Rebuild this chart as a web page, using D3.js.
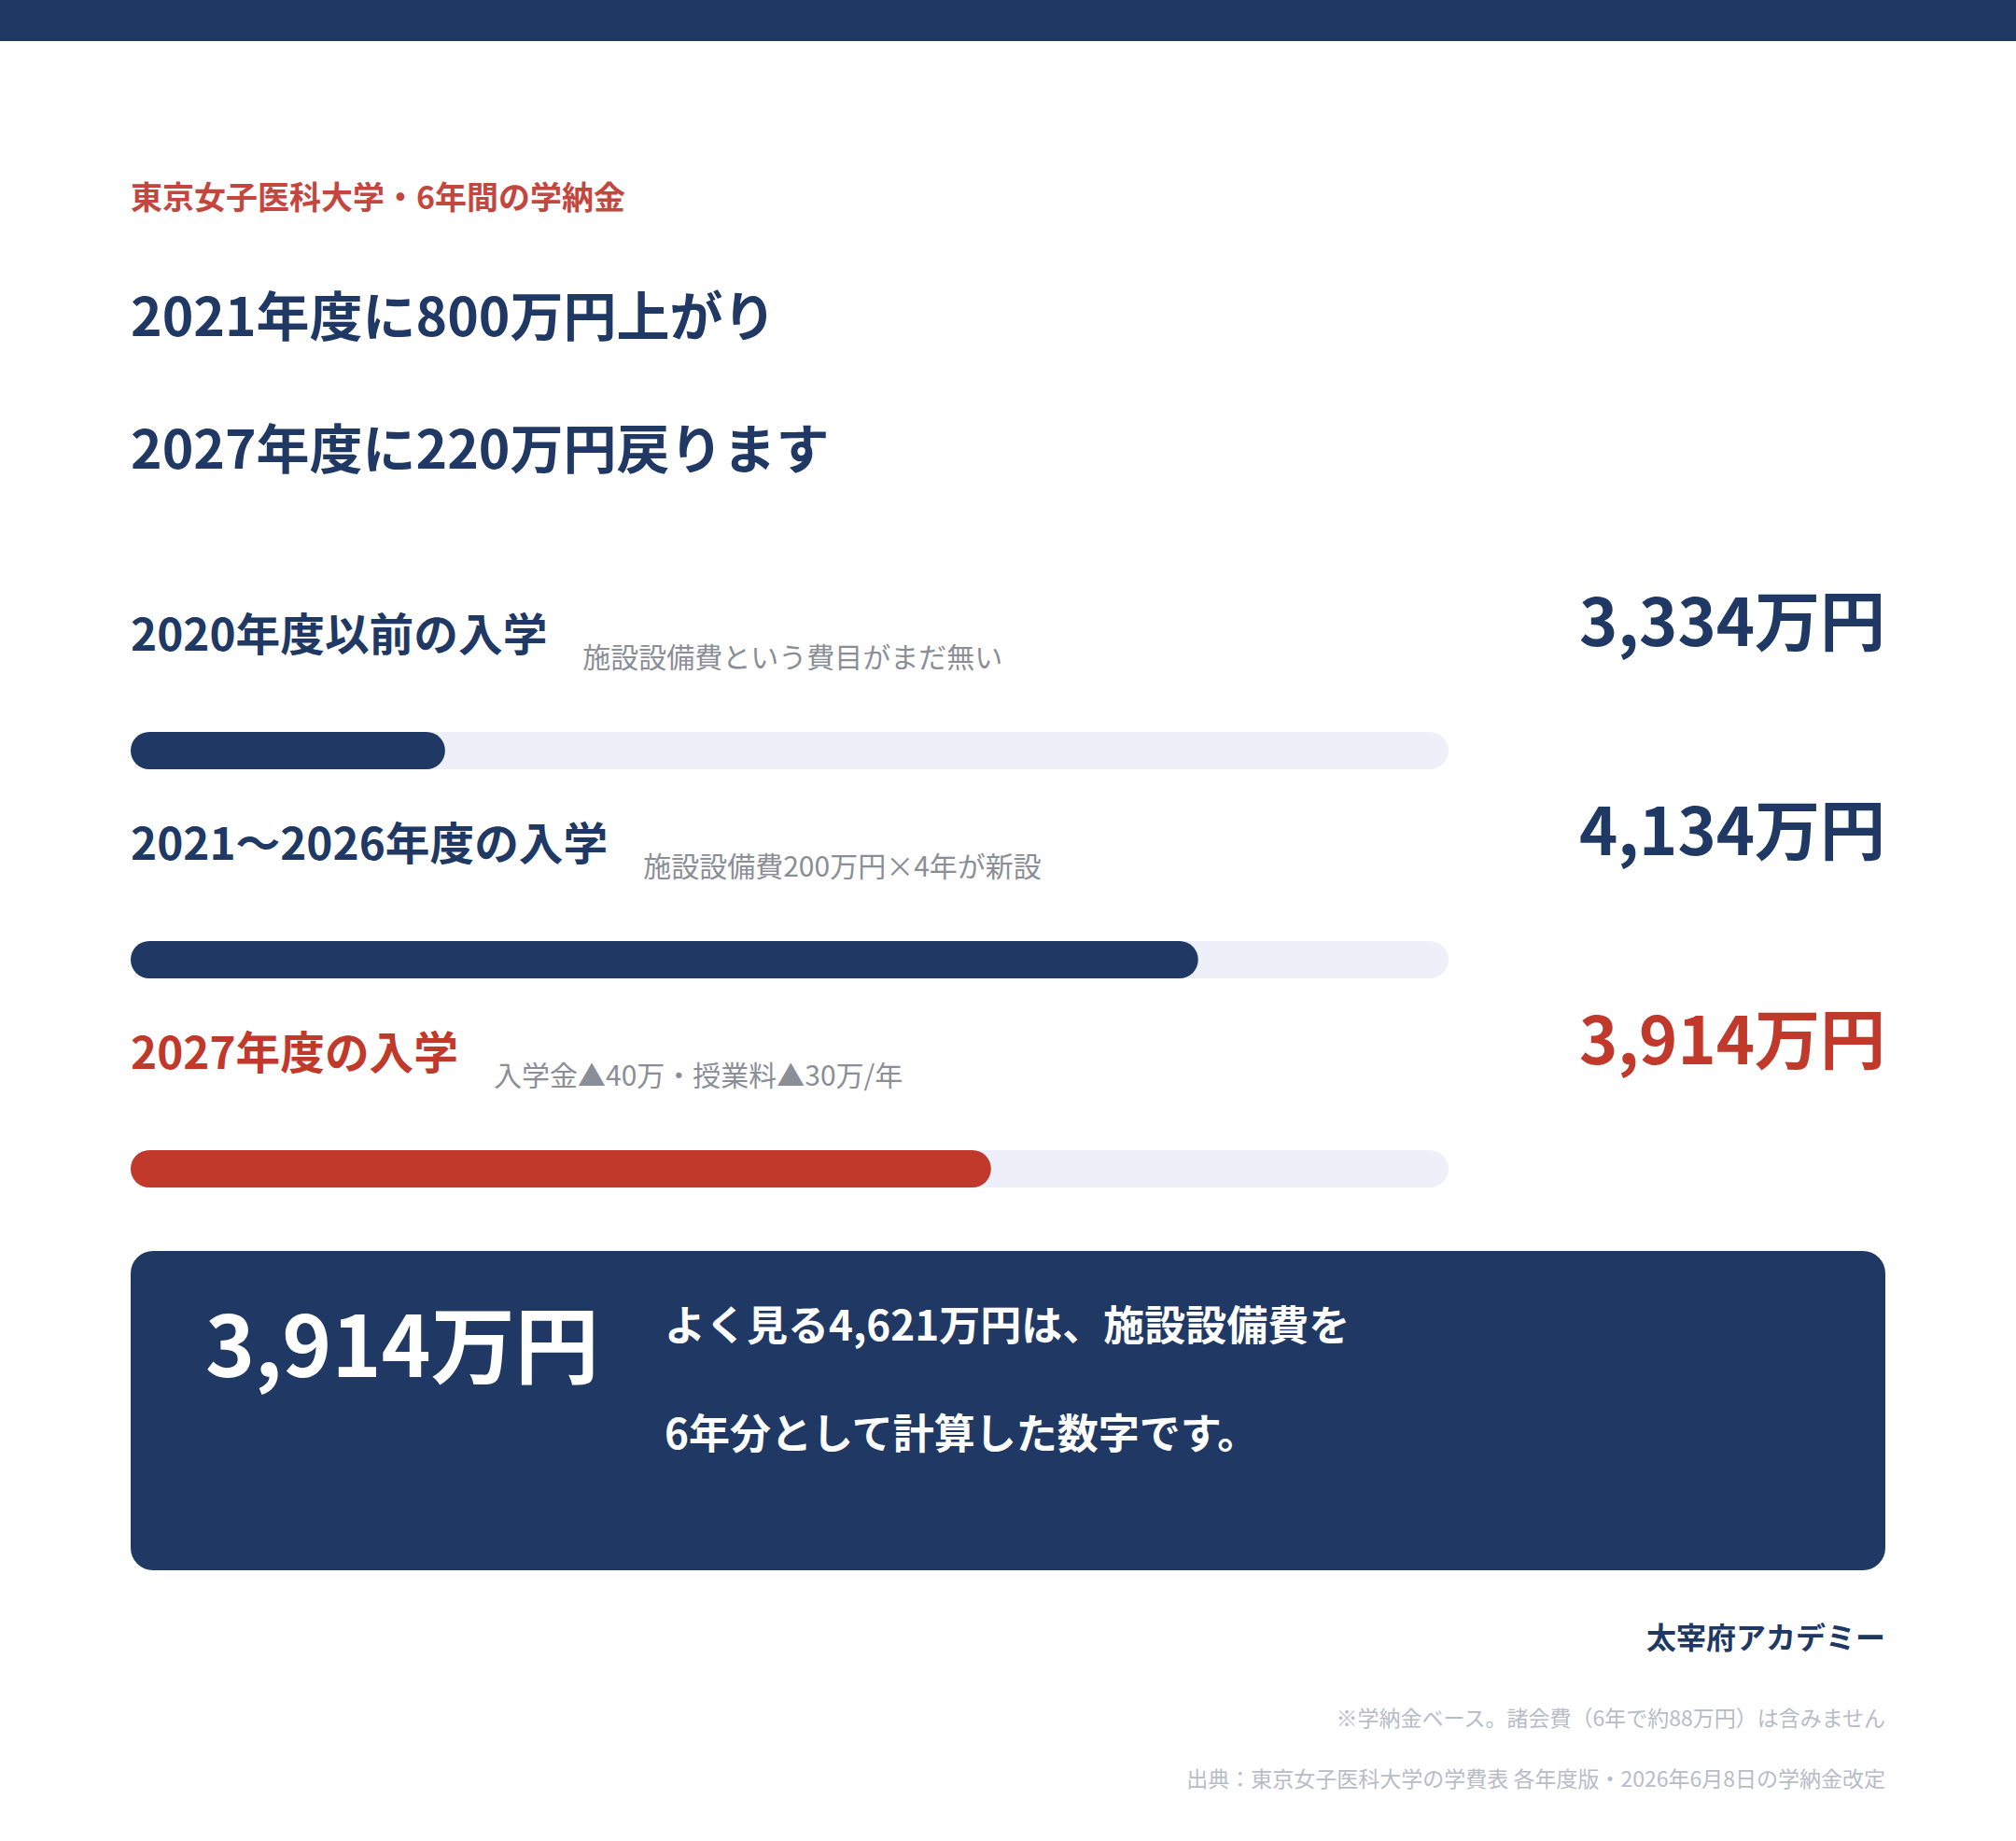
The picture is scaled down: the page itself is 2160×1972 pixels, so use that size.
<!DOCTYPE html>
<html>
<head>
<meta charset="utf-8">
<script src="https://cdn.jsdelivr.net/npm/d3@7/dist/d3.min.js"></script>
<style>
  html, body { margin: 0; padding: 0; background: #ffffff; }
  svg { display: block; }
  text { font-family: "Noto Sans CJK JP", "Noto Sans", sans-serif; }
</style>
</head>
<body>
<svg id="chart" width="2160" height="1972"></svg>
<script>
// ---- data ----
const kicker = "東京女子医科大学・6年間の学納金";
const headlines = ["2021年度に800万円上がり", "2027年度に220万円戻ります"];
const categories = ["2020年度以前の入学", "2021〜2026年度の入学", "2027年度の入学"];
const notes = ["施設設備費という費目がまだ無い", "施設設備費200万円×4年が新設", "入学金▲40万・授業料▲30万/年"];
const values = [3334, 4134, 3914];
const valueLabels = ["3,334万円", "4,134万円", "3,914万円"];
const highlighted = [false, false, true];
const scaleDomain = [3000, 4400];
const summaryValue = "3,914万円";
const summaryLines = ["よく見る4,621万円は、施設設備費を", "6年分として計算した数字です。"];
const brand = "太宰府アカデミー";
const footnotes = ["※学納金ベース。諸会費（6年で約88万円）は含みません", "出典：東京女子医科大学の学費表 各年度版・2026年6月8日の学納金改定"];

// ---- styles ----
const NAVY = "#203864";
const RED = "#c0392b";
const KICKER_RED = "#c4473f";
const TRACK = "#edf0f8";
const GRAY = "#8a8e97";
const LIGHT = "#b7bcc7";

const W = 2160, H = 1972;
const left = 140, right = 2020;
const svg = d3.select("#chart");
svg.append("rect").attr("width", W).attr("height", H).attr("fill", "#fff");
svg.append("rect").attr("x", 0).attr("y", 0).attr("width", W).attr("height", 44).attr("fill", NAVY);

svg.append("text").attr("x", left).attr("y", 209).attr("dominant-baseline", "central")
  .attr("font-size", 34).attr("font-weight", 700).attr("fill", KICKER_RED).text(kicker);

svg.selectAll("text.headline").data(headlines).join("text").attr("class", "headline")
  .attr("x", left).attr("y", (d, i) => 335 + i * 142).attr("dominant-baseline", "central")
  .attr("font-size", 57).attr("font-weight", 700).attr("fill", NAVY).text(d => d);

// ---- bars ----
const x = d3.scaleLinear().domain(scaleDomain).range([left, 1552]);
const rowY = d3.scaleLinear().domain([0, 1]).range([0, 224]);
const barTop = 784, barH = 40, labelY = 676, valueY = 661;

const rows = svg.selectAll("g.row").data(categories).join("g").attr("class", "row")
  .attr("transform", (d, i) => `translate(0,${rowY(i)})`);

rows.append("text").attr("class", "cat").attr("x", left).attr("y", labelY)
  .attr("dominant-baseline", "central").attr("font-size", 47.7).attr("font-weight", 700)
  .attr("fill", (d, i) => highlighted[i] ? RED : NAVY).text(d => d);

rows.each(function(d, i) {
  const g = d3.select(this);
  const lw = g.select("text.cat").node().getComputedTextLength();
  g.append("text").attr("x", left + lw + 38).attr("y", labelY + 26)
    .attr("dominant-baseline", "central").attr("font-size", 30).attr("font-weight", 400)
    .attr("fill", GRAY).text(notes[i]);
});

rows.append("text").attr("x", right).attr("y", valueY).attr("text-anchor", "end")
  .attr("dominant-baseline", "central").attr("font-size", 70).attr("font-weight", 700)
  .attr("fill", (d, i) => highlighted[i] ? RED : NAVY).text((d, i) => valueLabels[i]);

rows.append("rect").attr("x", x(scaleDomain[0])).attr("y", barTop)
  .attr("width", x(scaleDomain[1]) - x(scaleDomain[0])).attr("height", barH)
  .attr("rx", barH / 2).attr("fill", TRACK);

rows.append("rect").attr("x", x(scaleDomain[0])).attr("y", barTop)
  .attr("width", (d, i) => x(values[i]) - x(scaleDomain[0])).attr("height", barH)
  .attr("rx", barH / 2).attr("fill", (d, i) => highlighted[i] ? RED : NAVY);

// ---- summary box ----
svg.append("rect").attr("x", left).attr("y", 1340).attr("width", 2020 - left).attr("height", 342)
  .attr("rx", 24).attr("fill", NAVY);
svg.append("text").attr("x", 220).attr("y", 1436).attr("dominant-baseline", "central")
  .attr("font-size", 90).attr("font-weight", 700).attr("fill", "#fff").text(summaryValue);
svg.selectAll("text.sum").data(summaryLines).join("text").attr("class", "sum")
  .attr("x", 712).attr("y", (d, i) => 1417 + i * 116).attr("dominant-baseline", "central")
  .attr("font-size", 44).attr("font-weight", 700).attr("fill", "#fff").text(d => d);

// ---- footer ----
svg.append("text").attr("x", right).attr("y", 1752).attr("text-anchor", "end")
  .attr("dominant-baseline", "central").attr("font-size", 32).attr("font-weight", 700)
  .attr("fill", NAVY).text(brand);
svg.selectAll("text.foot").data(footnotes).join("text").attr("class", "foot")
  .attr("x", right).attr("y", (d, i) => 1839 + i * 65).attr("text-anchor", "end")
  .attr("dominant-baseline", "central").attr("font-size", 23).attr("font-weight", 400)
  .attr("fill", LIGHT).text(d => d);
</script>
</body>
</html>
